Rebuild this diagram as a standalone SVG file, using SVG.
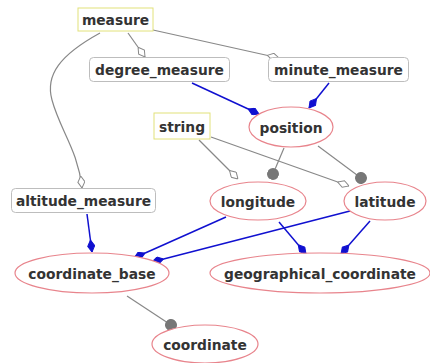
<svg xmlns="http://www.w3.org/2000/svg" width="430" height="363" viewBox="0 0 430 363">
<style>
text{font-family:"DejaVu Sans",Verdana,sans-serif;font-weight:bold;font-size:13.8px;fill:#333;text-anchor:middle;dominant-baseline:central}
.y{fill:#fff;stroke:#e2e27a;stroke-width:1}
.r{fill:#fff;stroke:#bdbdbd;stroke-width:1}
.e{fill:#fff;stroke:#e8848c;stroke-width:1.2}
.g{fill:none;stroke:#888;stroke-width:1.2}
.b{fill:none;stroke:#1010d0;stroke-width:1.5}
</style>
<defs>
<marker id="hd" viewBox="0 0 12 8" refX="12" refY="4" markerWidth="12" markerHeight="8" markerUnits="userSpaceOnUse" orient="auto"><path d="M0,4 L6,0.5 L12,4 L6,7.5 Z" fill="#fff" stroke="#888" stroke-width="1"/></marker>
<marker id="fd" viewBox="0 0 12 8" refX="12" refY="4" markerWidth="12" markerHeight="8" markerUnits="userSpaceOnUse" orient="auto"><path d="M0,4 L6,0.5 L12,4 L6,7.5 Z" fill="#1010d0" stroke="#1010d0" stroke-width="1"/></marker>
<marker id="dot" viewBox="0 0 12 12" refX="6" refY="6" markerWidth="12" markerHeight="12" markerUnits="userSpaceOnUse" orient="auto"><circle cx="6" cy="6" r="6" fill="#777"/></marker>
</defs>
<g id="connectors">
<path class="g" d="M128,33 L145,57" marker-end="url(#hd)"/>
<path class="g" d="M153,30 L279,58" marker-end="url(#hd)"/>
<path class="g" d="M100,33 C60,55 45,75 52,100 C60,130 78,150 82,188" marker-end="url(#hd)"/>
<path class="b" d="M192,83 L259,114" marker-end="url(#fd)"/>
<path class="b" d="M329,83 L309,108" marker-end="url(#fd)"/>
<path class="g" d="M199,140 L238,179" marker-end="url(#hd)"/>
<path class="g" d="M211,137 L349,186" marker-end="url(#hd)"/>
<path class="g" d="M284,148 L273,174" marker-end="url(#dot)"/>
<path class="g" d="M318,146 L361,178" marker-end="url(#dot)"/>
<path class="b" d="M87,214 L92,252" marker-end="url(#fd)"/>
<path class="b" d="M226,217 L134,258" marker-end="url(#fd)"/>
<path class="b" d="M350,211 L152,262" marker-end="url(#fd)"/>
<path class="b" d="M279,222 L306,254" marker-end="url(#fd)"/>
<path class="b" d="M370,221 L341,254" marker-end="url(#fd)"/>
<path class="g" d="M127,296 L171,325" marker-end="url(#dot)"/>
</g>
<g id="measure"><rect class="y" x="78" y="8" width="75" height="23"/><text x="115.5" y="20">measure</text></g>
<g id="degree_measure"><rect class="r" x="89.5" y="57.5" width="140" height="24" rx="4"/><text x="159.5" y="70">degree_measure</text></g>
<g id="minute_measure"><rect class="r" x="268.5" y="57.5" width="140" height="24" rx="4"/><text x="338.5" y="70">minute_measure</text></g>
<g id="string"><rect class="y" x="154" y="113" width="56" height="26"/><text x="182" y="127">string</text></g>
<g id="position"><ellipse class="e" cx="291" cy="127" rx="42" ry="20"/><text x="291" y="128">position</text></g>
<g id="altitude_measure"><rect class="r" x="11.5" y="188.5" width="144" height="24" rx="4"/><text x="83.5" y="201">altitude_measure</text></g>
<g id="longitude"><ellipse class="e" cx="258" cy="201" rx="48" ry="19"/><text x="258" y="202">longitude</text></g>
<g id="latitude"><ellipse class="e" cx="385" cy="201" rx="41" ry="19"/><text x="385" y="202">latitude</text></g>
<g id="coordinate_base"><ellipse class="e" cx="92" cy="273" rx="77" ry="20"/><text x="92" y="274">coordinate_base</text></g>
<g id="geographical_coordinate"><ellipse class="e" cx="320" cy="273" rx="110" ry="20"/><text x="320" y="274">geographical_coordinate</text></g>
<g id="coordinate"><ellipse class="e" cx="205" cy="344" rx="53" ry="19"/><text x="205" y="345">coordinate</text></g>
</svg>
